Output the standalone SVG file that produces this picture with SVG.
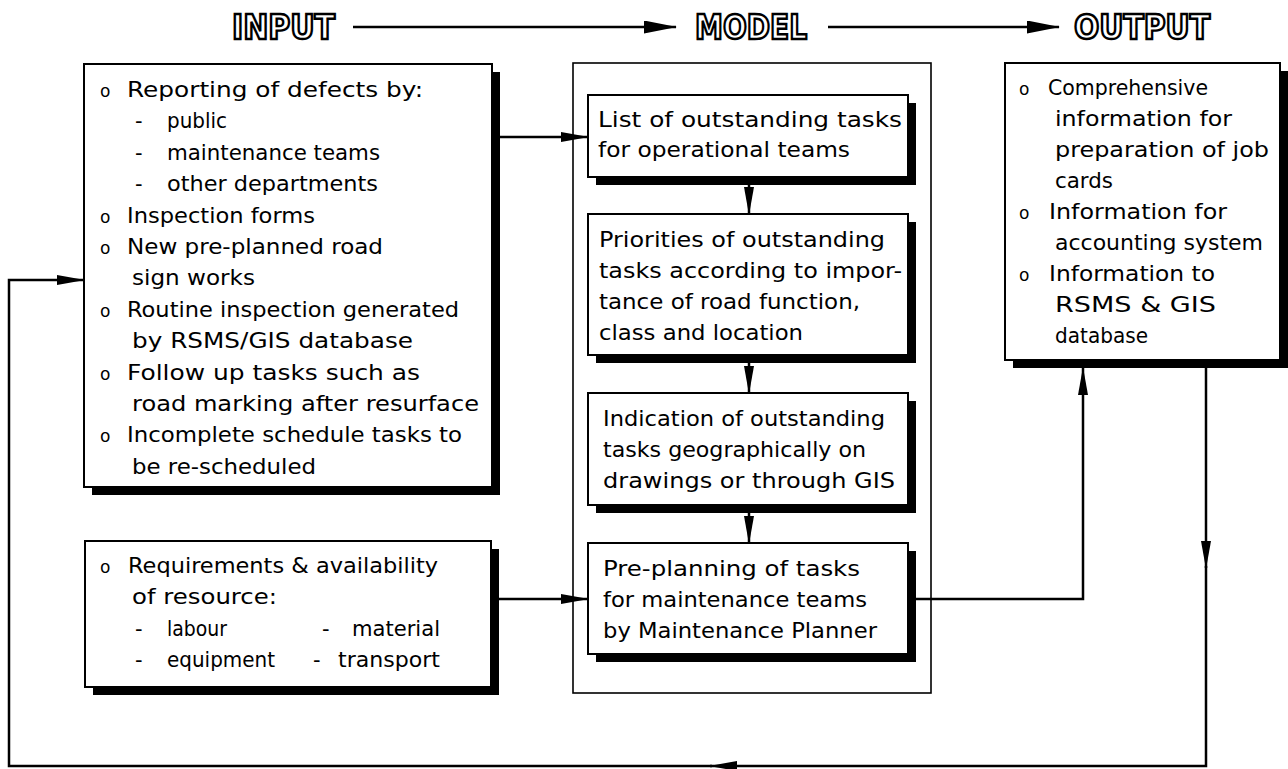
<svg xmlns="http://www.w3.org/2000/svg" width="1288" height="769" viewBox="0 0 1288 769">
<style>
.box{fill:#fff;stroke:#000;stroke-width:2}
.shadow{fill:#000}
.frame{fill:none;stroke:#000;stroke-width:1.6}
.t{font-family:"DejaVu Sans","Liberation Sans",sans-serif;font-size:21px;fill:#000}
.b{font-family:"DejaVu Sans","Liberation Sans",sans-serif;font-size:17px;fill:#000}
.title{font-family:"DejaVu Sans Condensed","Liberation Sans Narrow","Liberation Sans",sans-serif;font-weight:bold;font-size:34px;fill:#fff;stroke:#000;stroke-width:2.4}
.conn{fill:none;stroke:#000;stroke-width:2.5}
</style>
<defs>
<marker id="arr" viewBox="0 0 28 10" refX="27" refY="5" markerWidth="28" markerHeight="10" orient="auto" markerUnits="userSpaceOnUse"><path d="M0,0 L28,5 L0,10 z" fill="#000"/></marker>
<marker id="arrT" viewBox="0 0 33 13" refX="32" refY="6.5" markerWidth="33" markerHeight="13" orient="auto" markerUnits="userSpaceOnUse"><path d="M0,0 L33,6.5 L0,13 z" fill="#000"/></marker>
</defs>
<rect width="1288" height="769" fill="#fff"/>

<g id="title-input"><text class="title" x="232" y="39" textLength="103" lengthAdjust="spacingAndGlyphs">INPUT</text></g>
<g id="title-model"><text class="title" x="695" y="39" textLength="112" lengthAdjust="spacingAndGlyphs">MODEL</text></g>
<g id="title-output"><text class="title" x="1074" y="39" textLength="136" lengthAdjust="spacingAndGlyphs">OUTPUT</text></g>

<g id="node-inputs">
<rect class="shadow" x="92" y="72" width="408" height="423"/>
<rect class="box" x="84" y="64" width="408" height="423"/>
<text class="b" x="100" y="97">o</text><text class="t" x="127" y="97" textLength="296" lengthAdjust="spacingAndGlyphs">Reporting of defects by:</text>
<text class="t" x="135" y="128.4">-</text><text class="t" x="167" y="128.4" textLength="60" lengthAdjust="spacingAndGlyphs">public</text>
<text class="t" x="135" y="159.8">-</text><text class="t" x="167" y="159.8" textLength="213" lengthAdjust="spacingAndGlyphs">maintenance teams</text>
<text class="t" x="135" y="191.2">-</text><text class="t" x="167" y="191.2" textLength="211" lengthAdjust="spacingAndGlyphs">other departments</text>
<text class="b" x="100" y="222.6">o</text><text class="t" x="127" y="222.6" textLength="188" lengthAdjust="spacingAndGlyphs">Inspection forms</text>
<text class="b" x="100" y="254">o</text><text class="t" x="127" y="254" textLength="256" lengthAdjust="spacingAndGlyphs">New pre-planned road</text>
<text class="t" x="132" y="285.4" textLength="123" lengthAdjust="spacingAndGlyphs">sign works</text>
<text class="b" x="100" y="316.8">o</text><text class="t" x="127" y="316.8" textLength="332" lengthAdjust="spacingAndGlyphs">Routine inspection generated</text>
<text class="t" x="132" y="348.2" textLength="281" lengthAdjust="spacingAndGlyphs">by RSMS/GIS database</text>
<text class="b" x="100" y="379.6">o</text><text class="t" x="127" y="379.6" textLength="293" lengthAdjust="spacingAndGlyphs">Follow up tasks such as</text>
<text class="t" x="132" y="411" textLength="347" lengthAdjust="spacingAndGlyphs">road marking after resurface</text>
<text class="b" x="100" y="442.4">o</text><text class="t" x="127" y="442.4" textLength="335" lengthAdjust="spacingAndGlyphs">Incomplete schedule tasks to</text>
<text class="t" x="132" y="473.8" textLength="184" lengthAdjust="spacingAndGlyphs">be re-scheduled</text>
</g>

<g id="node-resources">
<rect class="shadow" x="93" y="549" width="406" height="146"/>
<rect class="box" x="85" y="541" width="406" height="146"/>
<text class="b" x="100" y="573">o</text><text class="t" x="128" y="573" textLength="310" lengthAdjust="spacingAndGlyphs">Requirements &amp; availability</text>
<text class="t" x="132" y="604" textLength="145" lengthAdjust="spacingAndGlyphs">of resource:</text>
<text class="t" x="135" y="636">-</text><text class="t" x="167" y="636" textLength="60" lengthAdjust="spacingAndGlyphs">labour</text>
<text class="t" x="322" y="636">-</text><text class="t" x="352" y="636" textLength="88" lengthAdjust="spacingAndGlyphs">material</text>
<text class="t" x="135" y="667">-</text><text class="t" x="167" y="667" textLength="108" lengthAdjust="spacingAndGlyphs">equipment</text>
<text class="t" x="313" y="667">-</text><text class="t" x="338" y="667" textLength="102" lengthAdjust="spacingAndGlyphs">transport</text>
</g>

<g id="node-model">
<rect class="frame" x="573" y="63" width="358" height="630"/>
</g>

<g id="node-list">
<rect class="shadow" x="596" y="103" width="320" height="82"/>
<rect class="box" x="588" y="95" width="320" height="82"/>
<text class="t" x="598" y="126.5" textLength="304" lengthAdjust="spacingAndGlyphs">List of outstanding tasks</text>
<text class="t" x="598" y="157" textLength="252" lengthAdjust="spacingAndGlyphs">for operational teams</text>
</g>

<g id="node-priorities">
<rect class="shadow" x="596" y="222" width="320" height="141"/>
<rect class="box" x="588" y="214" width="320" height="141"/>
<text class="t" x="599" y="247" textLength="286" lengthAdjust="spacingAndGlyphs">Priorities of outstanding</text>
<text class="t" x="599" y="278" textLength="303" lengthAdjust="spacingAndGlyphs">tasks according to impor-</text>
<text class="t" x="599" y="309" textLength="261" lengthAdjust="spacingAndGlyphs">tance of road function,</text>
<text class="t" x="599" y="340" textLength="204" lengthAdjust="spacingAndGlyphs">class and location</text>
</g>

<g id="node-indication">
<rect class="shadow" x="596" y="401" width="320" height="112"/>
<rect class="box" x="588" y="393" width="320" height="112"/>
<text class="t" x="603" y="426" textLength="282" lengthAdjust="spacingAndGlyphs">Indication of outstanding</text>
<text class="t" x="603" y="457" textLength="263" lengthAdjust="spacingAndGlyphs">tasks geographically on</text>
<text class="t" x="603" y="488" textLength="292" lengthAdjust="spacingAndGlyphs">drawings or through GIS</text>
</g>

<g id="node-preplanning">
<rect class="shadow" x="596" y="551" width="320" height="111"/>
<rect class="box" x="588" y="543" width="320" height="111"/>
<text class="t" x="603" y="576" textLength="257" lengthAdjust="spacingAndGlyphs">Pre-planning of tasks</text>
<text class="t" x="603" y="607" textLength="264" lengthAdjust="spacingAndGlyphs">for maintenance teams</text>
<text class="t" x="603" y="638" textLength="274" lengthAdjust="spacingAndGlyphs">by Maintenance Planner</text>
</g>

<g id="node-outputs">
<rect class="shadow" x="1013" y="71" width="275" height="297"/>
<rect class="box" x="1005" y="63" width="275" height="297"/>
<text class="b" x="1019" y="95">o</text><text class="t" x="1048" y="95" textLength="160" lengthAdjust="spacingAndGlyphs">Comprehensive</text>
<text class="t" x="1055" y="126" textLength="177" lengthAdjust="spacingAndGlyphs">information for</text>
<text class="t" x="1055" y="157" textLength="214" lengthAdjust="spacingAndGlyphs">preparation of job</text>
<text class="t" x="1055" y="188" textLength="58" lengthAdjust="spacingAndGlyphs">cards</text>
<text class="b" x="1019" y="219">o</text><text class="t" x="1049" y="219" textLength="178" lengthAdjust="spacingAndGlyphs">Information for</text>
<text class="t" x="1055" y="250" textLength="208" lengthAdjust="spacingAndGlyphs">accounting system</text>
<text class="b" x="1019" y="281">o</text><text class="t" x="1049" y="281" textLength="166" lengthAdjust="spacingAndGlyphs">Information to</text>
<text class="t" x="1055" y="312" textLength="161" lengthAdjust="spacingAndGlyphs">RSMS &amp; GIS</text>
<text class="t" x="1055" y="343" textLength="93" lengthAdjust="spacingAndGlyphs">database</text>
</g>

<g id="connectors">
<path class="conn" d="M353,27 H676" marker-end="url(#arrT)"/>
<path class="conn" d="M828,27 H1059" marker-end="url(#arrT)"/>
<path class="conn" d="M500,137 H588" marker-end="url(#arr)"/>
<path class="conn" d="M499,599 H588" marker-end="url(#arr)"/>
<path class="conn" d="M749,185 V214" marker-end="url(#arr)"/>
<path class="conn" d="M749,363 V393" marker-end="url(#arr)"/>
<path class="conn" d="M749,513 V543" marker-end="url(#arr)"/>
<path class="conn" d="M916,599 H1083 V368" marker-end="url(#arr)"/>
<path class="conn" d="M1206,368 V568" marker-end="url(#arr)"/>
<path class="conn" d="M1206,566 V766 H710" marker-end="url(#arr)"/>
<path class="conn" d="M712,766 H9 V280 H84" marker-end="url(#arr)"/>
</g>
</svg>
